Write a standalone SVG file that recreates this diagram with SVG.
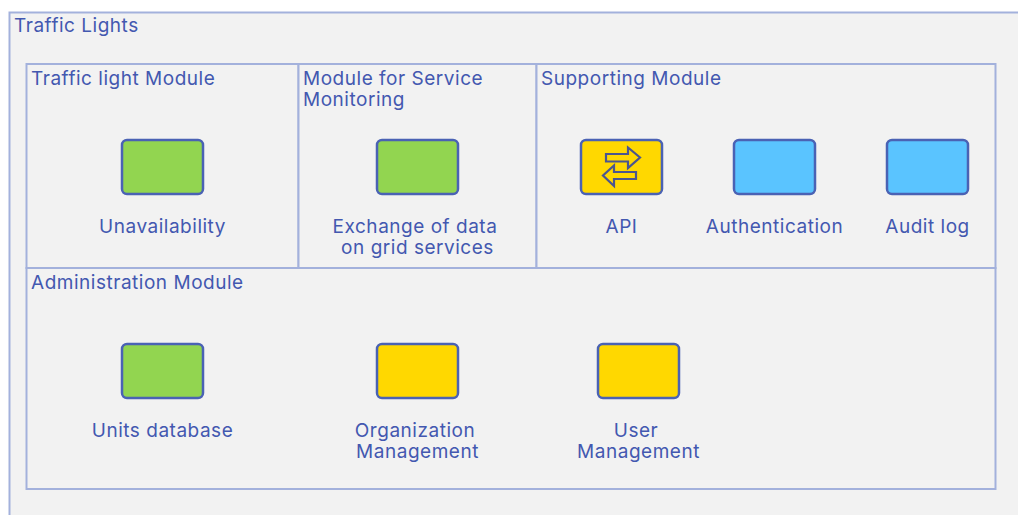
<svg xmlns="http://www.w3.org/2000/svg" width="1018" height="515" viewBox="0 0 1018 515">
<style>
text{font-family:Inter,"Noto Sans",sans-serif;font-size:19px;fill:#4358b0;letter-spacing:.52px}
.m{text-anchor:middle}
.c{fill:#f2f2f2;stroke:#a3b1dc;stroke-width:2}
.n{stroke:#4a62b4;stroke-width:2.5}
.g{fill:#92d550}.y{fill:#ffd800}.b{fill:#5ac4ff}
</style>
<rect width="1018" height="515" fill="#fff"/>
<g id="traffic-lights"><rect class="c" x="9.500" y="12.500" width="1020" height="520"/><text x="14" y="31.500">Traffic Lights</text></g>
<g id="traffic-light-module"><rect class="c" x="26.500" y="64" width="272" height="204"/><text x="31" y="84.500">Traffic light Module</text></g>
<g id="service-monitoring-module"><rect class="c" x="298.500" y="64" width="238" height="204"/><text x="303" y="84.500">Module for Service</text><text x="303" y="105.500">Monitoring</text></g>
<g id="supporting-module"><rect class="c" x="536.500" y="64" width="459" height="204"/><text x="541" y="84.500">Supporting Module</text></g>
<g id="administration-module"><rect class="c" x="26.500" y="268" width="969" height="221"/><text x="31" y="288.500">Administration Module</text></g>
<g id="unavailability"><rect class="n g" x="122" y="140" width="81" height="54" rx="5"/><text class="m" x="162.500" y="232.500">Unavailability</text></g>
<g id="exchange"><rect class="n g" x="377" y="140" width="81" height="54" rx="5"/><text class="m" x="415" y="232.500">Exchange of data</text><text class="m" x="417.500" y="253.500">on grid services</text></g>
<g id="api"><rect class="n y" x="581" y="140" width="81" height="54" rx="5"/><path d="M606 154H628V147.500L640 157.500L628 168V161.500H606ZM636 172H614V165.500L603 175.500L614 186V179H636Z" fill="none" stroke="#4a5590" stroke-width="2.200"/><text class="m" x="621.500" y="232.500">API</text></g>
<g id="authentication"><rect class="n b" x="734" y="140" width="81" height="54" rx="5"/><text class="m" x="774.500" y="232.500">Authentication</text></g>
<g id="audit-log"><rect class="n b" x="887" y="140" width="81" height="54" rx="5"/><text class="m" x="927.500" y="232.500">Audit log</text></g>
<g id="units-database"><rect class="n g" x="122" y="344" width="81" height="54" rx="5"/><text class="m" x="162.500" y="436.500">Units database</text></g>
<g id="organization-management"><rect class="n y" x="377" y="344" width="81" height="54" rx="5"/><text class="m" x="415" y="436.500">Organization</text><text class="m" x="417.500" y="457.500">Management</text></g>
<g id="user-management"><rect class="n y" x="598" y="344" width="81" height="54" rx="5"/><text class="m" x="636" y="436.500">User</text><text class="m" x="638.500" y="457.500">Management</text></g>
<g id="connectors"></g>
</svg>
